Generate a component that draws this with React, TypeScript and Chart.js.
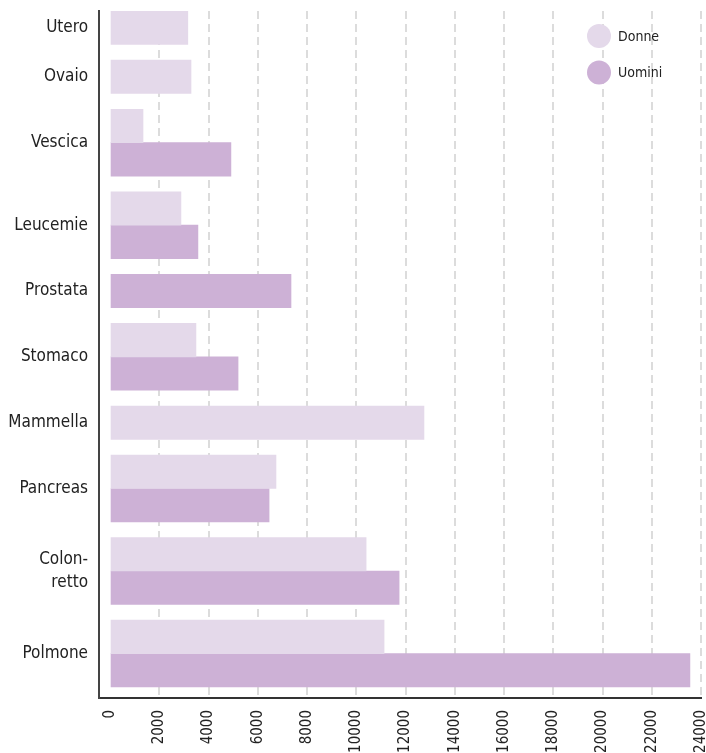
import React, { useEffect, useRef } from 'react';
import { Chart, registerables } from 'chart.js';

Chart.register(...registerables);

// ---- data ----
const categories: string[] = [
  'Utero',
  'Ovaio',
  'Vescica',
  'Leucemie',
  'Prostata',
  'Stomaco',
  'Mammella',
  'Pancreas',
  'Colon-\nretto',
  'Polmone',
];
const donne: (number | null)[] = [3160, 3290, 1340, 2880, null, 3490, 12750, 6740, 10400, 11130];
const uomini: (number | null)[] = [null, null, 4910, 3570, 7350, 5200, null, 6460, 11740, 23550];
const xTicks: number[] = [0, 2000, 4000, 6000, 8000, 10000, 12000, 14000, 16000, 18000, 20000, 22000, 24000];
const seriesLabels: string[] = ['Donne', 'Uomini'];
const seriesColors: string[] = ['#e4d9ea', '#cdb1d6'];

const FONT = "'DejaVu Sans Condensed', 'Liberation Sans Narrow', sans-serif";
const GROUP_GAP = 0.47; // gap between groups, in bar heights

// Build row positions: each present bar takes one unit, groups separated by a gap
function buildLayout() {
  const donnePts: { x: number; y: number }[] = [];
  const uominiPts: { x: number; y: number }[] = [];
  const centers: number[] = [];
  let pos = 0;
  categories.forEach((_, i) => {
    const start = pos;
    const d = donne[i];
    const u = uomini[i];
    if (d !== null) {
      donnePts.push({ x: d, y: pos + 0.5 });
      pos += 1;
    }
    if (u !== null) {
      uominiPts.push({ x: u, y: pos + 0.5 });
      pos += 1;
    }
    centers.push((start + pos) / 2);
    pos += GROUP_GAP;
  });
  const total = pos - GROUP_GAP;
  return { donnePts, uominiPts, centers, total };
}

const cornerLegend = {
  id: 'cornerLegend',
  afterDatasetsDraw(chart: any) {
    const { ctx, chartArea } = chart;
    chart.data.datasets.forEach((ds: any, i: number) => {
      const cx = chartArea.right - 102;
      const cy = chartArea.top + 25 + i * 36.6;
      ctx.save();
      ctx.beginPath();
      ctx.arc(cx, cy, 12, 0, Math.PI * 2);
      ctx.fillStyle = ds.backgroundColor;
      ctx.fill();
      ctx.fillStyle = '#222222';
      ctx.font = `14px ${FONT}`;
      ctx.textAlign = 'left';
      ctx.textBaseline = 'middle';
      ctx.fillText(ds.label, cx + 19, cy + 1);
      ctx.restore();
    });
  },
};

export default function App() {
  const canvasRef = useRef<HTMLCanvasElement | null>(null);

  useEffect(() => {
    if (!canvasRef.current) return;
    const { donnePts, uominiPts, centers, total } = buildLayout();

    const chart = new Chart(canvasRef.current, {
      type: 'bar',
      data: {
        datasets: [
          {
            label: seriesLabels[0],
            data: donnePts as any,
            backgroundColor: seriesColors[0],
            borderWidth: 0,
            grouped: false,
            categoryPercentage: 1,
            barPercentage: 1,
          } as any,
          {
            label: seriesLabels[1],
            data: uominiPts as any,
            backgroundColor: seriesColors[1],
            borderWidth: 0,
            grouped: false,
            categoryPercentage: 1,
            barPercentage: 1,
          } as any,
        ],
      },
      options: {
        indexAxis: 'y',
        animation: false,
        responsive: false,
        maintainAspectRatio: false,
        layout: { padding: { top: 11, right: 5, bottom: 0, left: 0 } },
        plugins: {
          legend: { display: false },
          tooltip: { enabled: false },
        },
        scales: {
          x: {
            type: 'linear',
            position: 'bottom',
            min: -447,
            max: 24000,
            afterBuildTicks: (s: any) => {
              s.ticks = xTicks.map((v) => ({ value: v }));
            },
            afterFit: (s: any) => {
              s.height = 55;
              s.paddingLeft = 0;
              s.paddingRight = 0;
            },
            grid: {
              color: (c: any) => (c.tick && c.tick.value === 0 ? 'rgba(0,0,0,0)' : '#dcdcdc'),
              lineWidth: 2,
              drawTicks: false,
            },
            border: { display: true, color: '#333333', width: 2, dash: [8, 5] },
            ticks: {
              minRotation: 90,
              maxRotation: 90,
              autoSkip: false,
              padding: 12,
              color: '#222222',
              font: { family: FONT, size: 15 },
              callback: (v: any) => String(v),
            },
          } as any,
          y: {
            type: 'linear',
            reverse: true,
            offset: false,
            min: 0,
            max: total + 0.33,
            afterBuildTicks: (s: any) => {
              s.ticks = centers.map((v) => ({ value: v }));
            },
            afterFit: (s: any) => {
              s.width = 99;
              s.paddingTop = 0;
              s.paddingBottom = 0;
            },
            grid: { display: false, drawTicks: false },
            border: { display: true, color: '#444444', width: 2 },
            ticks: {
              autoSkip: false,
              padding: 11,
              color: '#222222',
              font: { family: FONT, size: 17, lineHeight: 1.35 },
              callback: (_v: any, i: number) => categories[i].split('\n'),
            },
          } as any,
        },
      },
      plugins: [cornerLegend],
    });

    return () => chart.destroy();
  }, []);

  return (
    <div style={{ position: 'absolute', left: 0, top: 0, width: 706, height: 753, background: '#ffffff' }}>
      <canvas ref={canvasRef} width={706} height={753} style={{ display: 'block' }} />
    </div>
  );
}
